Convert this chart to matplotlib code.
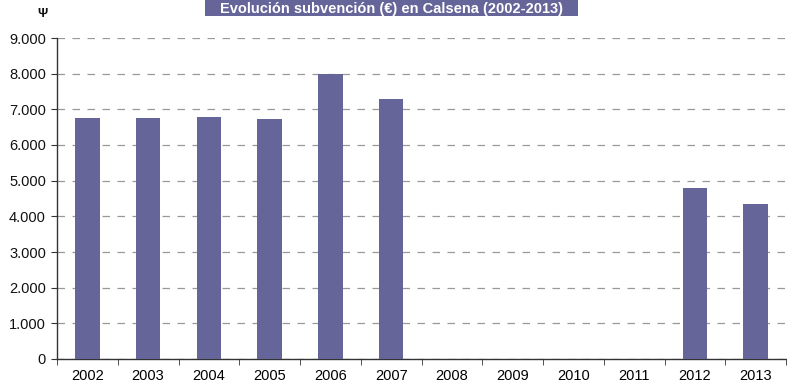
import matplotlib
matplotlib.use("Agg")
import matplotlib.pyplot as plt
from matplotlib.patches import Rectangle
from matplotlib.ticker import FuncFormatter, FixedLocator

years = ["2002", "2003", "2004", "2005", "2006", "2007", "2008", "2009", "2010", "2011", "2012", "2013"]
values = [6750, 6750, 6780, 6720, 8000, 7300, 0, 0, 0, 0, 4800, 4350]
title = "Evolución subvención (€) en Calsena (2002-2013)"

plt.rcParams['font.family'] = ['Liberation Sans', 'DejaVu Sans']

fig = plt.figure(figsize=(7.87, 3.89), dpi=100)
ax = fig.add_axes([57/787, 30/389, 729/787, 321/389])

x = list(range(len(years)))
ax.bar(x, values, width=0.4, color="#65659A", zorder=3)
ax.set_xlim(-0.5, len(years) - 0.5)
ax.set_ylim(0, 9000)
ax.set_yticks(range(0, 9001, 1000))
ax.yaxis.set_major_formatter(FuncFormatter(lambda v, p: f"{int(v):,}".replace(",", ".")))
ax.set_xticks(x)
ax.set_xticklabels(years, fontsize=10.5)
ax.xaxis.set_minor_locator(FixedLocator([i + 0.5 for i in range(-1, len(years))]))
ax.tick_params(axis='x', which='major', length=0, pad=7)
ax.tick_params(axis='x', which='minor', length=4, color="#333333", direction='out')
ax.tick_params(axis='y', length=4, color="#333333", labelsize=10.5, pad=4, labelcolor="#111111")
ax.grid(axis='y', linestyle=(0, (6, 6)), color="#999999", linewidth=0.9, zorder=0)
for s in ['top', 'right']:
    ax.spines[s].set_visible(False)
for s in ['left', 'bottom']:
    ax.spines[s].set_color("#333333")
    ax.spines[s].set_linewidth(1.0)

fig.text(42/787, 1 - 14/389, "Ψ", fontsize=9, fontweight='bold', ha='center', va='center', color="#111111")

fig.patches.append(Rectangle((205/787, 1 - 16/389), 373/787, 16/389, transform=fig.transFigure,
                             facecolor="#65659A", edgecolor="none", zorder=1))
fig.text(391/787, 1 - 8.5/389, title, fontsize=10.5, fontweight='bold', color="white",
         ha='center', va='center', zorder=2)

fig.savefig("out.png", dpi=100)
